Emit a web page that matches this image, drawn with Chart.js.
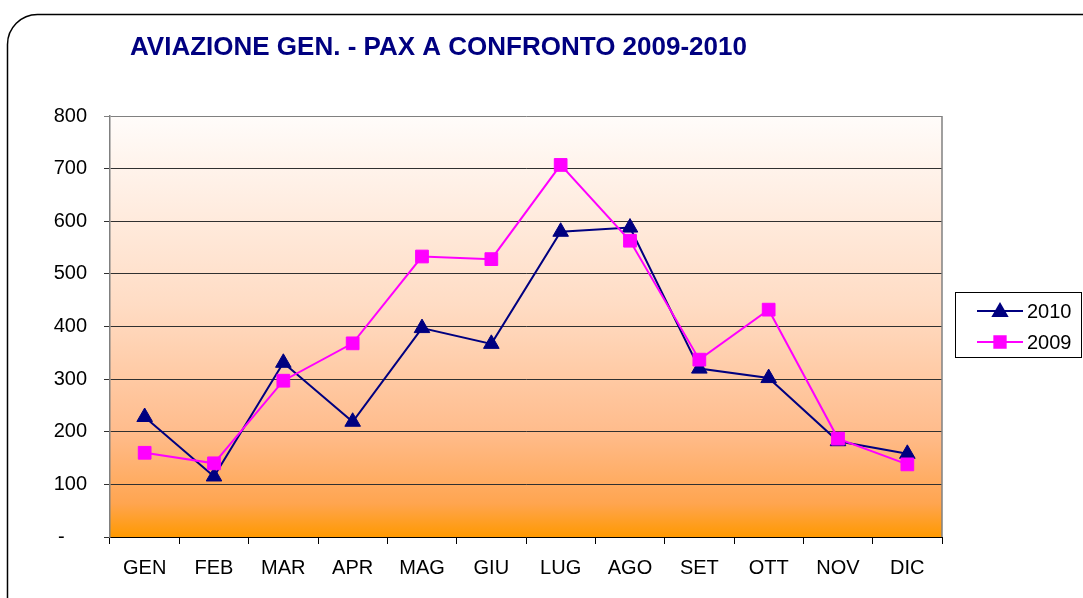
<!DOCTYPE html>
<html>
<head>
<meta charset="utf-8">
<title>Aviazione Gen. - Pax a confronto 2009-2010</title>
<script src="https://cdn.jsdelivr.net/npm/chart.js@4"></script>
<style>
  html, body { margin: 0; padding: 0; background: #ffffff; }
  #wrap { width: 1083px; height: 598px; position: relative; }
</style>
</head>
<body>
<div id="wrap"><canvas id="chart" width="1083" height="598"></canvas></div>
<script>
const TITLE = 'AVIAZIONE GEN. - PAX A CONFRONTO 2009-2010';
const months = ['GEN', 'FEB', 'MAR', 'APR', 'MAG', 'GIU', 'LUG', 'AGO', 'SET', 'OTT', 'NOV', 'DIC'];
const pax2010 = [228, 115, 331, 219, 397, 367, 580, 588, 320, 302, 182, 158];
const pax2009 = [160, 140, 297, 368, 533, 528, 707, 563, 337, 432, 187, 138];
const yTicks = [0, 100, 200, 300, 400, 500, 600, 700, 800];

const FONT = '"Liberation Sans", Arial, sans-serif';

// Frame, title, plot background and legend
const decor = {
  id: 'decor',
  beforeDraw(chart) {
    const { ctx, chartArea: a } = chart;
    ctx.save();
    // rounded outer frame
    ctx.strokeStyle = '#000000';
    ctx.lineWidth = 1.5;
    ctx.beginPath();
    ctx.roundRect(7.5, 14.5, 1110, 620, 30);
    ctx.stroke();
    // title
    ctx.fillStyle = '#000080';
    ctx.font = 'bold 26px ' + FONT;
    ctx.textBaseline = 'alphabetic';
    ctx.fillText(TITLE, 130, 55);
    // plot background gradient
    const g = ctx.createLinearGradient(0, a.top, 0, a.bottom);
    g.addColorStop(0, '#FFFCFA');
    g.addColorStop(0.45, '#FFDCC4');
    g.addColorStop(0.75, '#FFBC8C');
    g.addColorStop(0.92, '#FFA550');
    g.addColorStop(1, '#FF9900');
    ctx.fillStyle = g;
    ctx.fillRect(a.left, a.top, a.right - a.left, a.bottom - a.top);
    ctx.restore();
  },
  afterDatasetsDraw(chart) {
    const { ctx, chartArea: a } = chart;
    ctx.save();
    // right edge of the plot
    ctx.strokeStyle = '#808080';
    ctx.lineWidth = 1.5;
    ctx.beginPath();
    ctx.moveTo(a.right, a.top);
    ctx.lineTo(a.right, a.bottom);
    ctx.stroke();
    ctx.restore();
  },
  afterDraw(chart) {
    const { ctx } = chart;
    ctx.save();
    // legend box
    ctx.strokeStyle = '#000000';
    ctx.lineWidth = 1;
    ctx.strokeRect(955.5, 292.5, 126, 65);
    const rows = [chart.data.datasets[0], chart.data.datasets[1]];
    rows.forEach((ds, i) => {
      const y = 311 + i * 31;
      ctx.strokeStyle = ds.borderColor;
      ctx.lineWidth = 2;
      ctx.beginPath();
      ctx.moveTo(977, y);
      ctx.lineTo(1023, y);
      ctx.stroke();
      Chart.helpers.drawPoint(ctx, {
        pointStyle: ds.pointStyle,
        radius: 8,
        borderWidth: 1
      }, 1000, ds.pointStyle === 'triangle' ? y + 1 : y);
      ctx.fillStyle = ds.pointBackgroundColor;
      ctx.fill();
      ctx.fillStyle = '#000000';
      ctx.font = '20px ' + FONT;
      ctx.textBaseline = 'middle';
      ctx.fillText(ds.label, 1027, y + 1);
    });
    ctx.restore();
  }
};

new Chart(document.getElementById('chart'), {
  type: 'line',
  data: {
    labels: months,
    datasets: [
      {
        label: '2010',
        data: pax2010,
        borderColor: '#000080',
        backgroundColor: '#000080',
        pointBackgroundColor: '#000080',
        pointBorderColor: '#000080',
        pointStyle: 'triangle',
        pointRadius: 9,
        pointBorderWidth: 1,
        borderWidth: 2,
        tension: 0,
        order: 1
      },
      {
        label: '2009',
        data: pax2009,
        borderColor: '#FF00FF',
        backgroundColor: '#FF00FF',
        pointBackgroundColor: '#FF00FF',
        pointBorderColor: '#FF00FF',
        pointStyle: 'rect',
        pointRadius: 9,
        pointBorderWidth: 1,
        borderWidth: 2,
        tension: 0,
        order: 0
      }
    ]
  },
  options: {
    responsive: false,
    animation: false,
    layout: { padding: { left: 0, top: 116, right: 141, bottom: 0 } },
    plugins: {
      legend: { display: false },
      title: { display: false },
      tooltip: { enabled: false }
    },
    scales: {
      x: {
        offset: true,
        grid: {
          offset: true,
          drawOnChartArea: false,
          drawTicks: true,
          tickLength: 7,
          color: '#000000'
        },
        border: { color: '#000000', width: 1 },
        ticks: {
          color: '#000000',
          font: { family: FONT, size: 20 },
          padding: 12,
          maxRotation: 0,
          autoSkip: false
        },
        afterFit(scale) { scale.height = 61; }
      },
      y: {
        min: 0,
        max: 800,
        afterBuildTicks(scale) { scale.ticks = yTicks.map(v => ({ value: v })); },
        grid: {
          color: (c) => (c.tick && c.tick.value === 800) ? '#808080' : '#303030',
          lineWidth: 1,
          tickLength: 6,
          drawTicks: true
        },
        border: { color: '#808080', width: 1.5 },
        ticks: {
          color: '#000000',
          font: { family: FONT, size: 20 },
          padding: 17,
          callback: (v) => v === 0 ? '-    ' : String(v)
        },
        afterFit(scale) { scale.width = 110; }
      }
    }
  },
  plugins: [decor]
});
</script>
</body>
</html>
